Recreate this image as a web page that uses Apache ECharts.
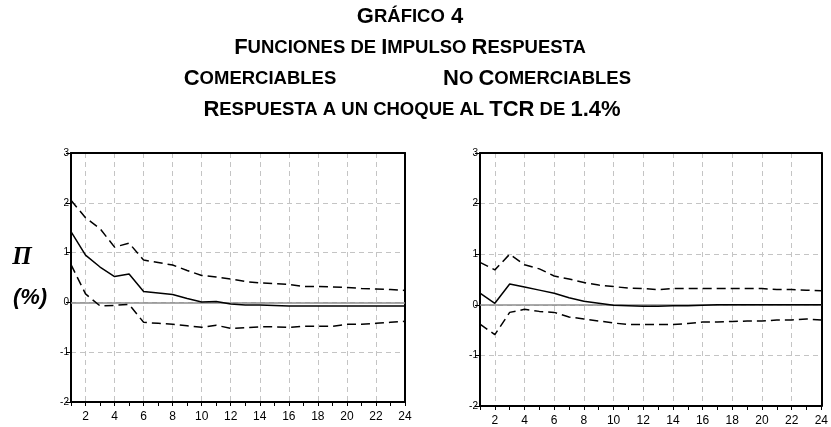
<!DOCTYPE html>
<html>
<head>
<meta charset="utf-8">
<script src="https://cdn.jsdelivr.net/npm/echarts@6/dist/echarts.min.js"></script>
<style>
  html, body { margin: 0; padding: 0; background: #fff; }
  #chart { width: 831px; height: 427px; }
</style>
</head>
<body>
<div id="chart"></div>
<script>
// horizon (periods) and y ticks
const periods = ["1","2","3","4","5","6","7","8","9","10","11","12","13","14","15","16","17","18","19","20","21","22","23","24"];
const yTicks = [-2, -1, 0, 1, 2, 3];

// Comerciables: response and +/- 2 s.e. bands
const comResp  = [1.42, 0.95, 0.71, 0.52, 0.57, 0.22, 0.19, 0.16, 0.08, 0.01, 0.02, -0.03, -0.05, -0.05, -0.06, -0.07, -0.07, -0.07, -0.07, -0.07, -0.07, -0.07, -0.07, -0.07];
const comUpper = [2.05, 1.70, 1.48, 1.11, 1.19, 0.85, 0.80, 0.75, 0.64, 0.54, 0.51, 0.47, 0.42, 0.39, 0.38, 0.36, 0.32, 0.32, 0.31, 0.30, 0.28, 0.27, 0.26, 0.24];
const comLower = [0.76, 0.17, -0.07, -0.06, -0.04, -0.40, -0.42, -0.44, -0.47, -0.50, -0.46, -0.52, -0.51, -0.49, -0.49, -0.50, -0.48, -0.48, -0.48, -0.44, -0.44, -0.42, -0.40, -0.38];

// No comerciables
const noComResp  = [0.23, 0.03, 0.41, 0.35, 0.29, 0.23, 0.14, 0.07, 0.03, -0.01, -0.02, -0.03, -0.03, -0.02, -0.02, -0.01, 0.00, 0.00, 0.00, 0.00, 0.00, 0.00, 0.00, 0.00];
const noComUpper = [0.84, 0.69, 1.00, 0.79, 0.71, 0.57, 0.51, 0.44, 0.39, 0.36, 0.33, 0.32, 0.30, 0.32, 0.32, 0.32, 0.32, 0.32, 0.32, 0.32, 0.30, 0.30, 0.29, 0.28];
const noComLower = [-0.38, -0.59, -0.15, -0.09, -0.13, -0.15, -0.24, -0.28, -0.32, -0.36, -0.39, -0.39, -0.39, -0.39, -0.37, -0.34, -0.34, -0.33, -0.32, -0.32, -0.30, -0.30, -0.28, -0.30];

const chart = echarts.init(document.getElementById("chart"));

const gridColor = "#c4c4c4";
const frame = { color: "#000", width: 2 };
const evenIdx = (i) => i % 2 === 1;

function xAxisFor(gridIndex) {
	return {
		type: "category",
		gridIndex: gridIndex,
		position: "bottom",
		data: periods,
		boundaryGap: false,
		axisLine: { onZero: false, lineStyle: frame },
		axisTick: { show: true, interval: 0, length: 4, lineStyle: { color: "#000", width: 1 } },
		axisLabel: { interval: evenIdx, color: "#000", fontSize: 12, fontFamily: "Liberation Sans", margin: 9 },
		splitLine: { show: true, interval: evenIdx, lineStyle: { color: gridColor, type: [5, 4], width: 1 } },
	};
}

// top edge of the box
function xFrameFor(gridIndex) {
	return {
		type: "category",
		gridIndex: gridIndex,
		position: "top",
		data: periods,
		boundaryGap: false,
		axisLine: { onZero: false, lineStyle: frame },
		axisTick: { show: false },
		axisLabel: { show: false },
		splitLine: { show: false },
	};
}

function yAxisFor(gridIndex) {
	return {
		type: "value",
		gridIndex: gridIndex,
		position: "left",
		min: yTicks[0],
		max: yTicks[yTicks.length - 1],
		interval: 1,
		axisLine: { show: true, onZero: false, lineStyle: frame },
		axisTick: { show: true, length: 5, lineStyle: { color: "#000", width: 1 } },
		axisLabel: { color: "#000", fontSize: 10, fontFamily: "Liberation Sans", margin: 2 },
		splitLine: { show: true, lineStyle: { color: gridColor, type: [5, 4], width: 1 } },
	};
}

// right edge of the box
function yFrameFor(gridIndex) {
	return {
		type: "value",
		gridIndex: gridIndex,
		position: "right",
		min: yTicks[0],
		max: yTicks[yTicks.length - 1],
		interval: 1,
		axisLine: { show: true, onZero: false, lineStyle: frame },
		axisTick: { show: false },
		axisLabel: { show: false },
		splitLine: { show: false },
	};
}

function lineSeries(data, idx, dashed, zero) {
	const s = {
		type: "line",
		xAxisIndex: idx,
		yAxisIndex: idx,
		data: data,
		symbol: "none",
		silent: true,
		z: 5,
		lineStyle: { color: "#000", width: 1.5, type: dashed ? [9, 5] : "solid" },
	};
	if (zero) {
		s.markLine = {
			silent: true,
			symbol: "none",
			label: { show: false },
			lineStyle: { color: "#8c8c8c", type: "solid", width: 1.5 },
			data: [{ yAxis: 0 }],
			z: 2,
		};
	}
	return s;
}

// small caps: big initials + smaller capitals
const big = { fontSize: 22, fontWeight: "bold", fontFamily: "Liberation Sans", fill: "#000" };
const sm  = { fontSize: 18.5, fontWeight: "bold", fontFamily: "Liberation Sans", fill: "#000" };

function capsText(x, y, text) {
	return {
		type: "text",
		x: x,
		y: y,
		style: {
			text: text,
			align: "center",
			verticalAlign: "middle",
			rich: { b: big, s: sm },
		},
	};
}

const option = {
	animation: false,
	backgroundColor: "#fff",
	grid: [
		{ left: 71, top: 153, width: 334, height: 249 },
		{ left: 480, top: 153, width: 342, height: 253 },
	],
	xAxis: [xAxisFor(0), xAxisFor(1), xFrameFor(0), xFrameFor(1)],
	yAxis: [yAxisFor(0), yAxisFor(1), yFrameFor(0), yFrameFor(1)],
	series: [
		lineSeries(comResp, 0, false, true),
		lineSeries(comUpper, 0, true),
		lineSeries(comLower, 0, true),
		lineSeries(noComResp, 1, false, true),
		lineSeries(noComUpper, 1, true),
		lineSeries(noComLower, 1, true),
	],
	graphic: [
		capsText(410, 17, "{b|G}{s|RÁFICO}{b| 4}"),
		capsText(410, 48, "{b|F}{s|UNCIONES DE }{b|I}{s|MPULSO }{b|R}{s|ESPUESTA}"),
		capsText(260, 79, "{b|C}{s|OMERCIABLES}"),
		capsText(537, 79, "{b|N}{s|O }{b|C}{s|OMERCIABLES}"),
		capsText(412, 110, "{b|R}{s|ESPUESTA A UN CHOQUE AL }{b|TCR}{s| DE }{b|1.4%}"),
		{
			type: "text",
			x: 22,
			y: 258,
			style: { text: "Π", align: "center", verticalAlign: "middle", font: "italic bold 25px 'Liberation Serif'", fill: "#000" },
		},
		{
			type: "text",
			x: 30,
			y: 298,
			style: { text: "(%)", align: "center", verticalAlign: "middle", font: "italic bold 22px 'Liberation Sans'", fill: "#000" },
		},
	],
};

chart.setOption(option);
</script>
</body>
</html>
